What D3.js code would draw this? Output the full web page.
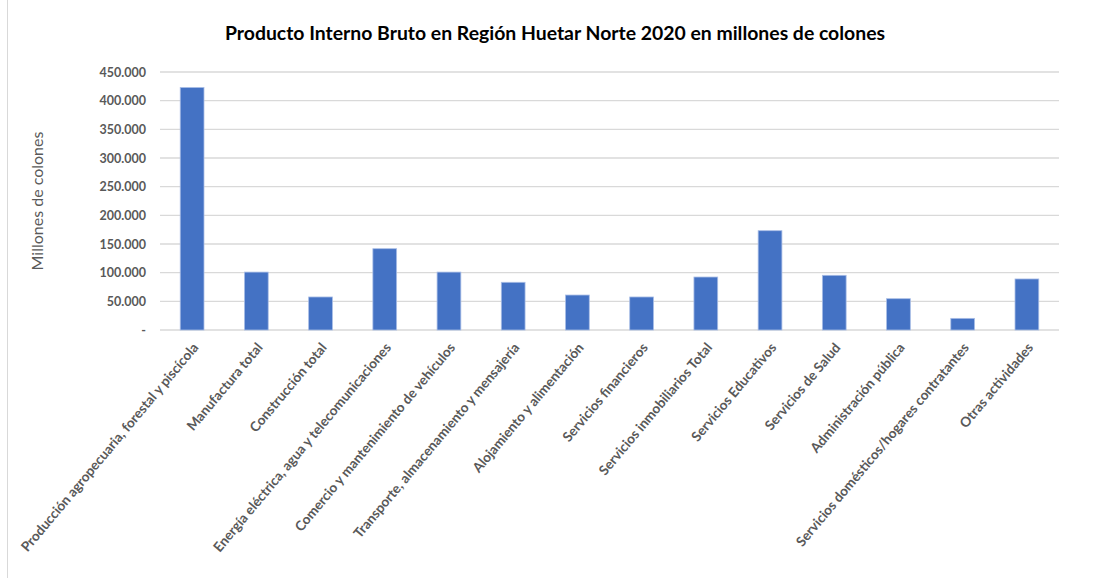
<!DOCTYPE html>
<html>
<head>
<meta charset="utf-8">
<script src="https://cdn.jsdelivr.net/npm/d3@7"></script>
<style>
  body { margin: 0; background: #fff; }
  svg { font-family: Lato, "Open Sans", sans-serif; }
</style>
</head>
<body>
<svg width="1093" height="578"></svg>
<script>
// Categories and values (millones de colones)
const categories = [
  "Producción agropecuaria, forestal y piscícola",
  "Manufactura total",
  "Construcción total",
  "Energía eléctrica,  agua y telecomunicaciones",
  "Comercio y mantenimiento de vehículos",
  "Transporte, almacenamiento y mensajería",
  "Alojamiento y alimentación",
  "Servicios financieros",
  "Servicios inmobiliarios Total",
  "Servicios Educativos",
  "Servicios de Salud",
  "Administración pública",
  "Servicios domésticos/hogares contratantes",
  "Otras actividades"
];
const values = [423000, 101000, 57600, 141800, 101000, 83200, 61000, 57600, 92400, 173200, 95400, 54600, 20300, 89000];
const yTicks = [0, 50000, 100000, 150000, 200000, 250000, 300000, 350000, 400000, 450000];

const svg = d3.select("svg");

// Plot area
const plotLeft = 160, plotRight = 1059, plotTop = 72, plotBottom = 330;

// Chart border on the left
svg.append("line")
  .attr("x1", 7.5).attr("x2", 7.5)
  .attr("y1", 0).attr("y2", 578)
  .attr("stroke", "#d9d9d9");

// Title
svg.append("text")
  .text("Producto Interno Bruto en Región Huetar Norte 2020 en millones de colones")
  .attr("x", 555)
  .attr("y", 40)
  .attr("text-anchor", "middle")
  .style("font-size", "19.4px")
  .style("font-weight", "bold")
  .style("fill", "#000");

// Scales
const xScale = d3.scaleBand().domain(categories).range([plotLeft, plotRight]).paddingInner(0.63).paddingOuter(0.315);
const yScale = d3.scaleLinear().domain([0, 450000]).range([plotBottom, plotTop]);

// Gridlines
svg.append("g")
  .selectAll("line")
  .data(yTicks)
  .enter()
  .append("line")
  .attr("x1", plotLeft).attr("x2", plotRight)
  .attr("y1", d => yScale(d)).attr("y2", d => yScale(d))
  .attr("stroke", "#d9d9d9")
  .attr("stroke-width", 1.3);

// Y axis (labels only)
const yAxis = d3.axisLeft(yScale)
  .tickValues(yTicks)
  .tickSize(0)
  .tickPadding(0)
  .tickFormat(d => d === 0 ? "-" : d3.format(",")(d).replace(/,/g, "."));

svg.append("g")
  .attr("transform", "translate(146,0)")
  .call(yAxis)
  .call(g => g.select(".domain").remove())
  .selectAll("text")
  .style("font-family", "Lato, sans-serif")
  .style("font-size", "12.5px")
  .style("font-weight", "bold")
  .style("fill", "#595959");

// Y axis title
svg.append("text")
  .text("Millones de colones")
  .attr("transform", "rotate(-90)")
  .attr("x", -201)
  .attr("y", 43)
  .attr("text-anchor", "middle")
  .style("font-size", "16px")
  .style("fill", "#595959");

// Bars
svg.selectAll("rect.bar")
  .data(values)
  .enter()
  .append("rect")
  .attr("class", "bar")
  .attr("x", (d, i) => xScale(categories[i]))
  .attr("y", d => yScale(d))
  .attr("width", xScale.bandwidth())
  .attr("height", d => plotBottom - yScale(d))
  .attr("fill", "#4472c4")
  .attr("stroke", "#a9bde6")
  .attr("stroke-width", 0.8);

// X axis labels
const xAxis = d3.axisBottom(xScale).tickSize(0).tickPadding(0);
svg.append("g")
  .attr("transform", `translate(0,${plotBottom})`)
  .call(xAxis)
  .call(g => g.select(".domain").remove())
  .selectAll("text")
  .attr("text-anchor", "end")
  .attr("dy", 0)
  .attr("transform", "translate(7,18) rotate(-50)")
  .style("font-family", "Lato, sans-serif")
  .style("font-size", "13.6px")
  .style("font-weight", "bold")
  .style("fill", "#595959");
</script>
</body>
</html>
